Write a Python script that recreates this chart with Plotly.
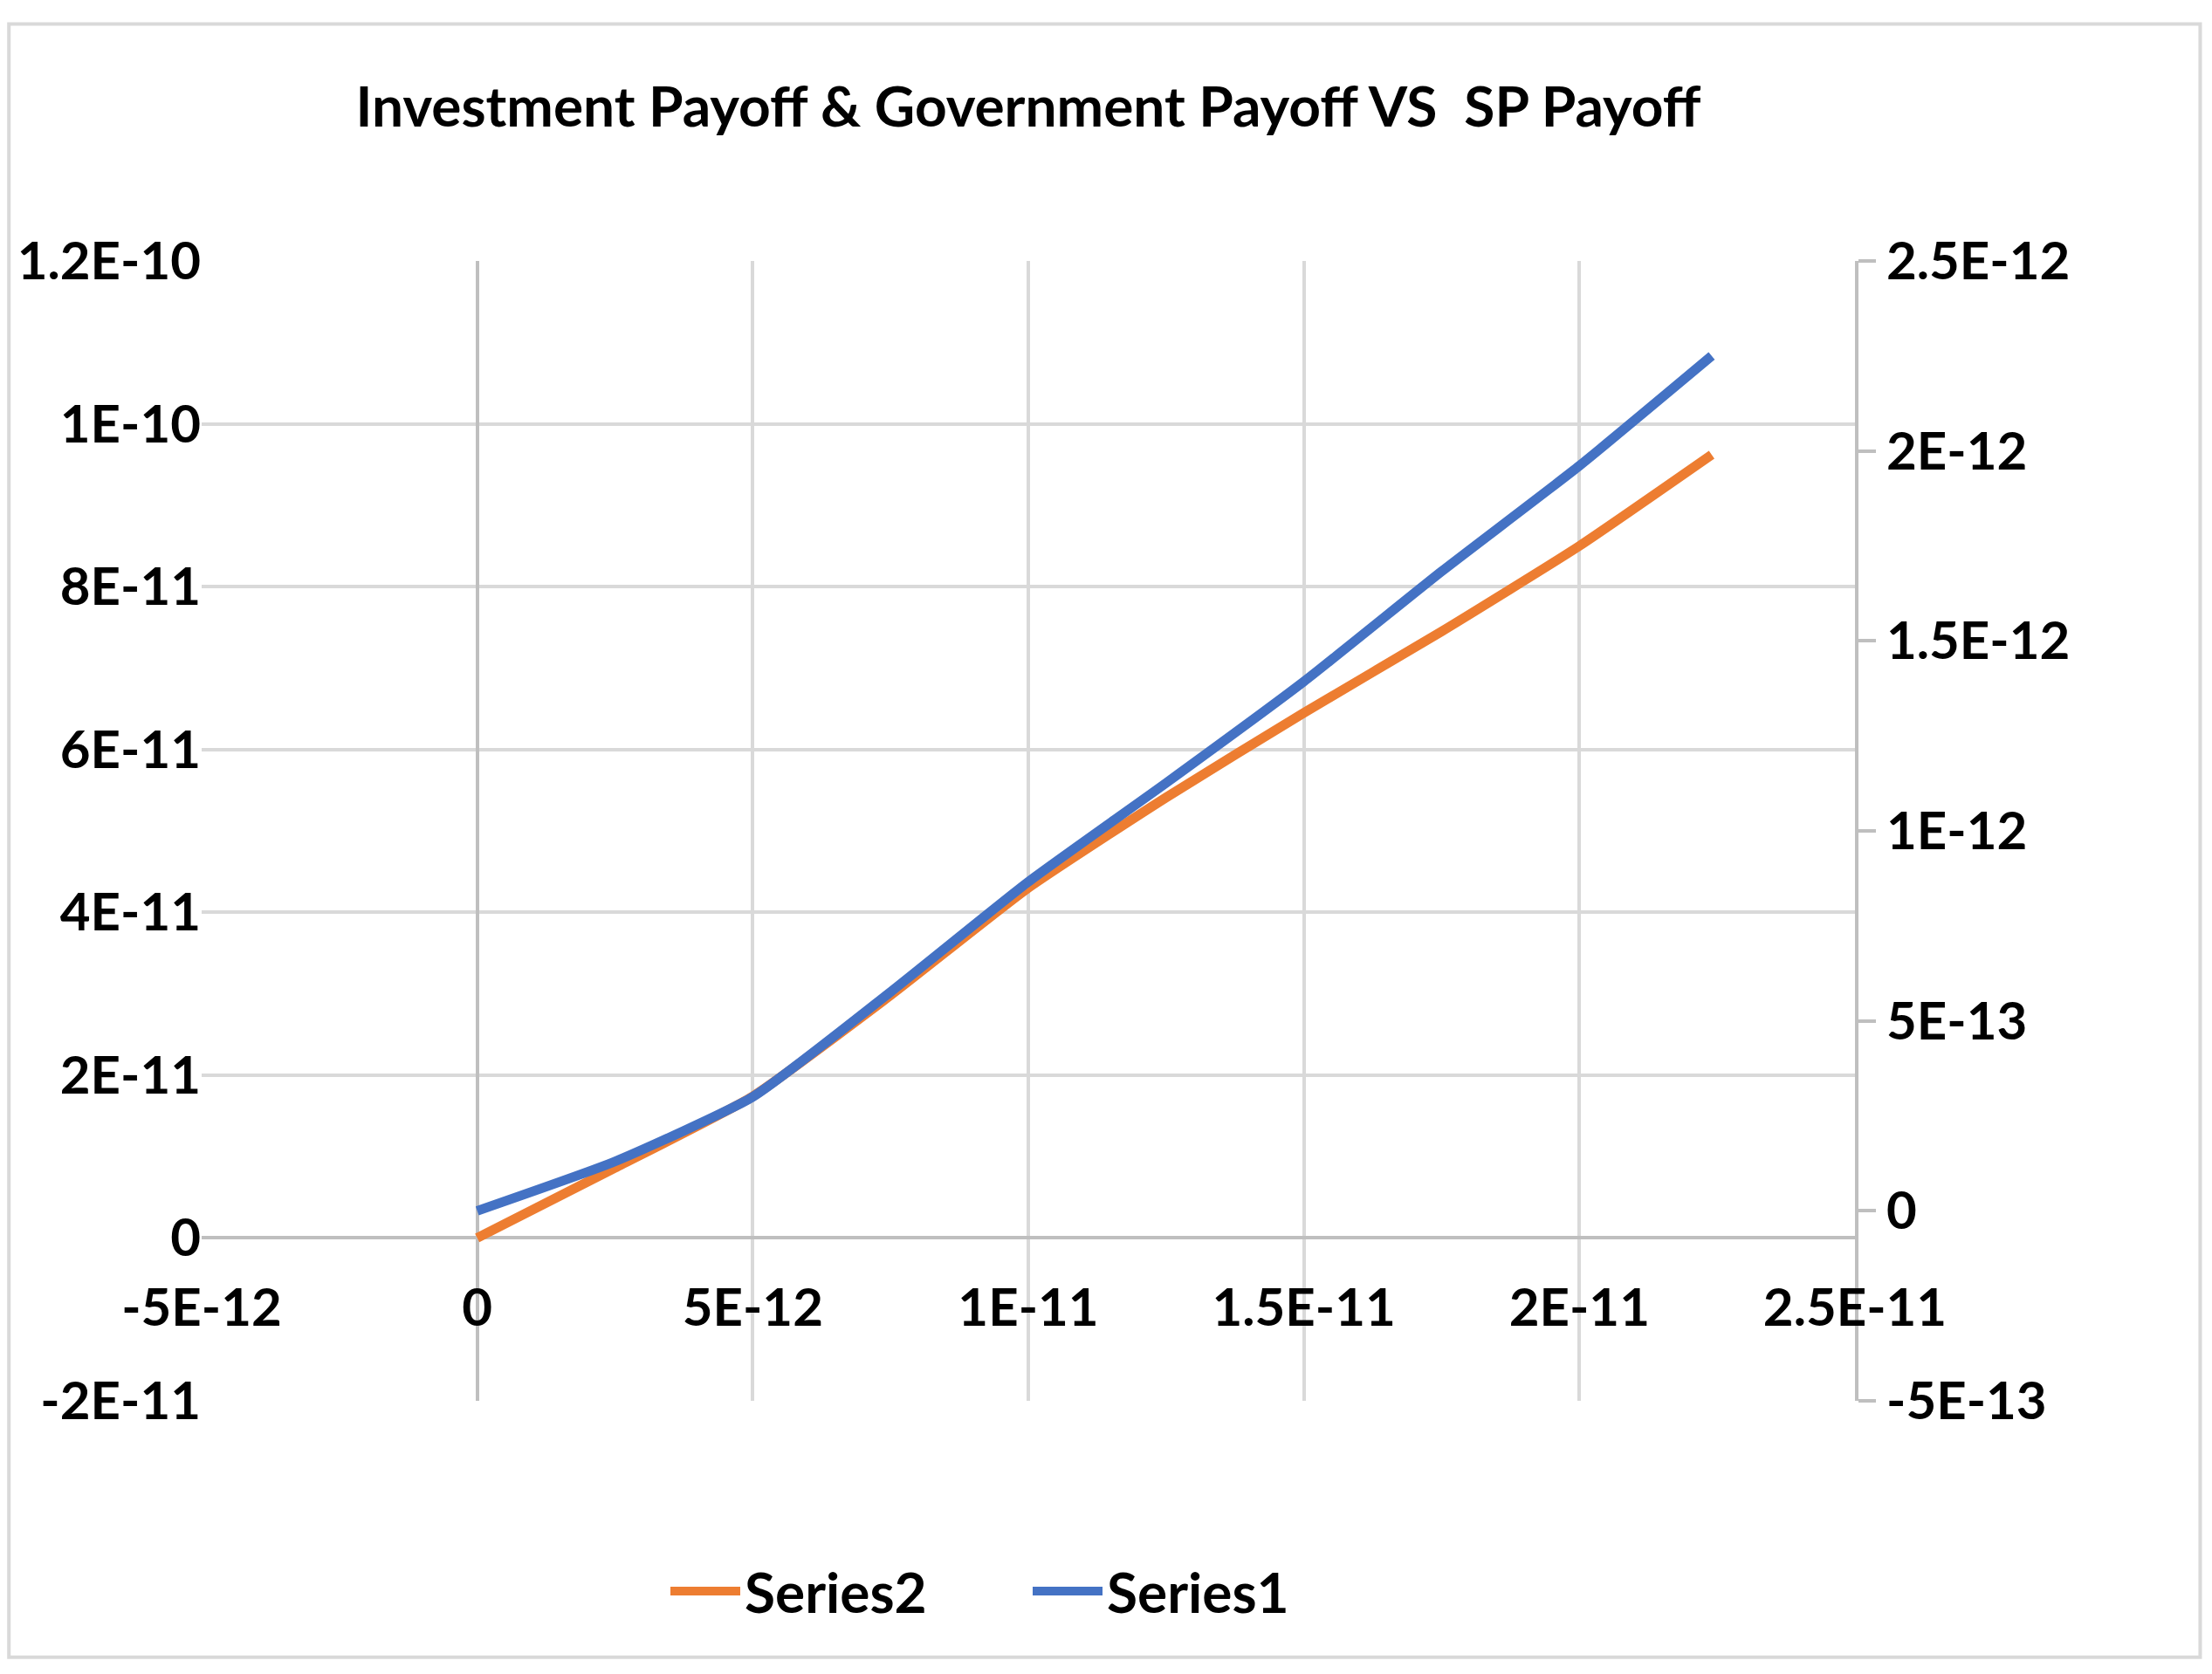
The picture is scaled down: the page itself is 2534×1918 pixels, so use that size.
import plotly.graph_objects as go

x_vals = [0, 2.5e-12, 5e-12, 7.5e-12, 1e-11, 1.25e-11, 1.5e-11, 1.75e-11, 2e-11, 2.24e-11]
series2 = [0, 0.86e-11, 1.74e-11, 2.98e-11, 4.30e-11, 5.41e-11, 6.45e-11, 7.45e-11, 8.50e-11, 9.62e-11]
series1 = [0, 0.13e-12, 0.30e-12, 0.576e-12, 0.866e-12, 1.126e-12, 1.393e-12, 1.683e-12, 1.961e-12, 2.25e-12]

x_ticks = [-5e-12, 0, 5e-12, 1e-11, 1.5e-11, 2e-11, 2.5e-11]
x_text = ["-5E-12", "0", "5E-12", "1E-11", "1.5E-11", "2E-11", "2.5E-11"]
y_ticks = [-2e-11, 0, 2e-11, 4e-11, 6e-11, 8e-11, 1e-10, 1.2e-10]
y_text = ["-2E-11", "0", "2E-11", "4E-11", "6E-11", "8E-11", "1E-10", "1.2E-10"]
y2_ticks = [-5e-13, 0, 5e-13, 1e-12, 1.5e-12, 2e-12, 2.5e-12]
y2_text = ["-5E-13", "0", "5E-13", "1E-12", "1.5E-12", "2E-12", "2.5E-12"]

F = "Lato, Open Sans, sans-serif"
fig = go.Figure()
fig.add_trace(go.Scatter(x=x_vals, y=series2, name="Series2", mode="lines",
                         line=dict(color="#ED7D31", width=11, shape="spline", smoothing=0.5)))
fig.add_trace(go.Scatter(x=x_vals, y=series1, name="Series1", mode="lines", yaxis="y2",
                         line=dict(color="#4472C4", width=11, shape="spline", smoothing=0.5)))

fig.update_layout(
    width=2534, height=1918, paper_bgcolor="white", plot_bgcolor="white",
    margin=dict(l=221, r=417, t=291, b=321),
    font=dict(family=F, size=60, color="black"),
    title=dict(text="<b>Investment Payoff & Government Payoff VS  SP Payoff</b>",
               x=0.5, xref="paper", y=0.94, yanchor="middle", font=dict(size=64, weight="bold")),
    xaxis=dict(range=[-5e-12, 2.5e-11], tickvals=x_ticks, ticktext=x_text,
               anchor="free", position=2/14, showgrid=True, gridcolor="#D9D9D9", gridwidth=4,
               zeroline=True, zerolinecolor="#BFBFBF", zerolinewidth=4,
               ticklabelstandoff=40,
               tickfont=dict(size=60, family=F, weight="bold"), ticks="", showline=False),
    yaxis=dict(range=[-2e-11, 1.2e-10], tickvals=y_ticks, ticktext=y_text,
               showgrid=True, gridcolor="#D9D9D9", gridwidth=4,
               zeroline=True, zerolinecolor="#BFBFBF", zerolinewidth=4,
               tickfont=dict(size=60, family=F, weight="bold"), ticks=""),
    yaxis2=dict(range=[-5e-13, 2.5e-12], tickvals=y2_ticks, ticktext=y2_text,
                overlaying="y", side="right", showgrid=False, zeroline=False,
                showline=True, linecolor="#BFBFBF", linewidth=4,
                ticks="outside", ticklen=20, tickwidth=4, tickcolor="#BFBFBF",
                tickfont=dict(size=60, family=F, weight="bold")),
    legend=dict(orientation="h", x=0.5, xanchor="center", y=-0.13, yanchor="top",
                entrywidth=320, itemwidth=80,
                font=dict(size=64, family=F, weight="bold")),
    shapes=[dict(type="rect", xref="paper", yref="paper",
                 x0=-221/1896, x1=(1555*1.616-221)/1896,
                 y0=1 + (291 - 1170*1.616)/1306, y1=1 + (291 - 12*1.616)/1306,
                 line=dict(color="#D9D9D9", width=4))],
)
fig.write_html("out.html")
